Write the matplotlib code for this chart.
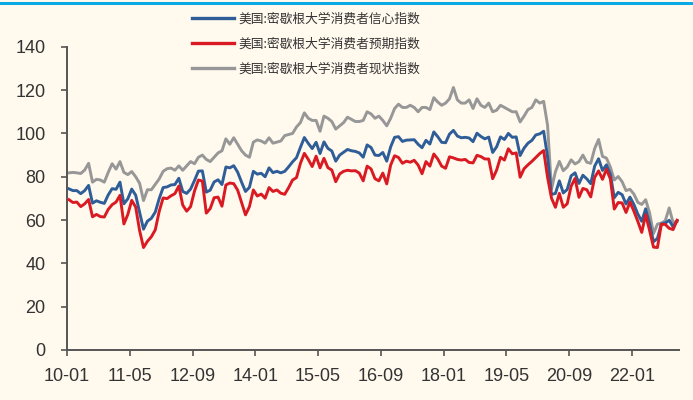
import matplotlib
matplotlib.use("Agg")
import matplotlib.pyplot as plt
import numpy as np
from matplotlib.patches import Rectangle

# Monthly observations, 2010-01 .. 2022-12
start_year = 2010
end_year = 2022

# 信心指数 (consumer sentiment)
sentiment = [
    74.4, 73.6, 73.6, 72.2, 73.6, 76.0, 67.8, 68.9, 68.2, 67.7, 71.6, 74.5,
    74.2, 77.5, 67.5, 69.8, 74.3, 71.5, 63.7, 55.8, 59.5, 60.8, 63.7, 69.9,
    75.0, 75.3, 76.2, 76.4, 79.3, 73.2, 72.3, 74.3, 78.3, 82.6, 82.7, 72.9,
    73.8, 77.6, 78.6, 76.4, 84.5, 84.1, 85.1, 82.1, 77.5, 73.2, 75.1, 82.5,
    81.2, 81.6, 80.0, 84.1, 81.9, 82.5, 81.8, 82.5, 84.6, 86.9, 88.8, 93.6,
    98.1, 95.4, 93.0, 95.9, 90.7, 96.1, 93.1, 91.9, 87.2, 90.0, 91.3, 92.6,
    92.0, 91.7, 91.0, 89.0, 94.7, 93.5, 90.0, 89.8, 91.2, 87.2, 93.8, 98.2,
    98.5, 96.3, 96.9, 97.0, 97.1, 95.0, 93.4, 96.8, 95.1, 100.7, 98.5, 95.9,
    95.7, 99.7, 101.4, 98.8, 98.0, 98.2, 97.9, 96.2, 100.1, 98.6, 97.5, 98.3,
    91.2, 93.8, 98.4, 97.2, 100.0, 98.2, 98.4, 89.8, 93.2, 95.5, 96.8, 99.3,
    99.8, 101.0, 89.1, 71.8, 72.3, 78.1, 72.5, 74.1, 80.4, 81.8, 76.9, 80.7,
    79.0, 76.8, 84.9, 88.3, 82.9, 85.5, 81.2, 70.3, 72.8, 71.7, 67.4, 70.6,
    67.2, 62.8, 59.4, 65.2, 58.4, 50.0, 51.5, 58.2, 58.6, 59.9, 56.8, 59.7,
]

# 预期指数 (expectations)
expectations = [
    69.4, 68.1, 68.3, 66.2, 67.5, 69.5, 61.5, 62.6, 61.6, 61.4, 64.9, 67.1,
    68.3, 71.4, 58.2, 62.6, 69.1, 66.0, 55.2, 47.3, 50.2, 52.3, 55.5, 64.0,
    70.2, 69.9, 71.2, 72.2, 75.7, 66.9, 64.1, 66.2, 73.4, 78.5, 78.0, 63.2,
    65.3, 70.3, 70.6, 66.4, 76.2, 77.1, 76.8, 73.8, 68.1, 62.4, 66.2, 73.9,
    71.1, 72.0, 70.1, 75.0, 73.2, 73.9, 72.4, 71.9, 75.0, 78.5, 79.6, 86.2,
    90.8, 88.0, 84.7, 89.5, 84.1, 88.5, 84.2, 83.1, 77.7, 81.3, 82.5, 83.0,
    82.7, 82.8, 81.7, 78.1, 84.9, 83.6, 79.1, 78.1, 81.7, 76.7, 85.4, 89.7,
    88.9, 86.2, 87.2, 86.7, 87.6, 85.4, 81.4, 87.0, 84.9, 90.5, 88.2, 84.9,
    83.9, 89.2, 88.7, 88.0, 87.7, 88.0, 86.6, 86.4, 89.9, 89.3, 88.2, 88.2,
    79.1, 83.0, 89.0, 87.7, 92.9, 90.6, 91.0, 79.8, 83.7, 85.5, 87.1, 88.9,
    90.7, 92.1, 79.7, 70.1, 65.9, 72.3, 65.9, 67.5, 75.6, 79.2, 70.5, 74.6,
    74.0, 70.7, 79.7, 82.7, 78.8, 83.5, 79.0, 65.1, 68.1, 67.9, 63.5, 68.3,
    64.1, 59.4, 54.3, 62.5, 55.2, 47.5, 47.3, 58.0, 58.0, 56.2, 55.6, 59.9,
]

# 现状指数 (current conditions)
current = [
    81.8, 82.0, 81.8, 81.5, 83.1, 86.2, 77.5, 78.8, 78.5, 77.5, 82.0, 86.0,
    83.5, 87.0, 82.0, 81.0, 82.4, 80.0, 77.0, 69.0, 74.0, 74.0, 76.5, 79.0,
    82.5, 83.7, 84.0, 83.0, 85.0, 83.0, 85.0, 87.0, 86.0, 89.0, 90.0, 88.0,
    87.0, 89.0, 91.0, 92.0, 97.5, 95.0, 98.0, 95.0, 92.0, 90.0, 89.0, 96.0,
    97.0, 96.5, 95.5, 98.0, 95.5, 96.0, 96.5, 99.0, 99.5, 100.0, 103.0, 105.0,
    109.5, 107.0, 106.0, 106.0, 101.0, 108.0, 107.0, 105.5, 102.0, 103.5, 105.0, 107.5,
    106.5, 105.5, 105.5, 106.0, 110.0, 109.0, 107.0, 108.0, 106.0, 103.5, 107.0, 111.5,
    113.5, 112.0, 112.0, 113.0, 112.0, 110.0, 112.0, 112.0, 111.0, 116.5, 114.5, 113.0,
    114.0, 116.0, 121.2, 115.5, 114.0, 114.0, 115.5, 111.5, 116.0, 113.0, 112.0, 114.0,
    110.0, 110.7, 113.0, 112.0, 111.0, 110.0, 110.0, 105.3, 108.0, 111.0, 112.0, 115.5,
    114.0, 114.8, 103.7, 74.3, 82.3, 87.1, 82.8, 84.5, 87.8, 85.9, 87.0, 90.0,
    86.7, 86.2, 93.0, 97.2, 89.4, 88.6, 84.5, 78.5, 80.1, 77.7, 73.6, 74.2,
    72.0, 68.2, 67.2, 69.4, 63.3, 53.8, 58.1, 58.6, 59.7, 65.6, 58.8, 59.4,
]

series_labels = [
    "美国:密歇根大学消费者信心指数",
    "美国:密歇根大学消费者预期指数",
    "美国:密歇根大学消费者现状指数",
]

tick_labels = ["10-01", "11-05", "12-09", "14-01", "15-05",
               "16-09", "18-01", "19-05", "20-09", "22-01"]
y_ticks = [0, 20, 40, 60, 80, 100, 120, 140]

# month labels for every observation ("YY-MM")
months = [f"{y % 100:02d}-{m:02d}"
          for y in range(start_year, end_year + 1) for m in range(1, 13)]

BG = "#FFF9EE"
AXIS = "#555555"
TEXT = "#333333"
C_BLUE = "#2E5D98"
C_RED = "#DA1A22"
C_GRAY = "#979797"

fig = plt.figure(figsize=(6.93, 4.00), dpi=100, facecolor=BG)
ax = fig.add_axes([0.0967, 0.125, 0.9831 - 0.0967 - 0.0033, 0.883 - 0.125])
ax.set_facecolor(BG)

n = len(months)
x = np.arange(n) + 0.5

l_gray, = ax.plot(x, current, color=C_GRAY, lw=2.1, solid_joinstyle="round",
                  label=series_labels[2], zorder=2)
l_blue, = ax.plot(x, sentiment, color=C_BLUE, lw=2.1, solid_joinstyle="round",
                  label=series_labels[0], zorder=3)
l_red, = ax.plot(x, expectations, color=C_RED, lw=2.1, solid_joinstyle="round",
                 label=series_labels[1], zorder=4)

ax.set_xlim(0, n)
ax.set_ylim(0, 140)

tick_pos = [months.index(t) for t in tick_labels]
ax.set_xticks(tick_pos)
ax.set_xticklabels(tick_labels)
ax.set_yticks(y_ticks)

for s in ("top", "right"):
    ax.spines[s].set_visible(False)
for s in ("left", "bottom"):
    ax.spines[s].set_color(AXIS)
    ax.spines[s].set_linewidth(1.4)

ax.tick_params(axis="both", direction="out", length=4, width=1.2,
               color=AXIS, labelcolor=TEXT, labelsize=13)
ax.tick_params(axis="y", pad=11.5)
ax.tick_params(axis="x", pad=9)
for lab in ax.get_xticklabels() + ax.get_yticklabels():
    lab.set_family(["Liberation Sans", "DejaVu Sans"])

leg = fig.legend(handles=[l_blue, l_red, l_gray],
                 labels=series_labels,
                 loc="upper left", bbox_to_anchor=(0.277, 0.968),
                 frameon=False, borderpad=0, borderaxespad=0,
                 handlelength=3.3, handletextpad=0.35, labelspacing=0.92,
                 prop={"family": ["Noto Sans CJK SC", "DejaVu Sans"], "size": 9.2})
for t in leg.get_texts():
    t.set_color(TEXT)
for h in leg.legend_handles:
    h.set_linewidth(2.4)

# thin accent rule along the top edge
fig.patches.append(Rectangle((0, 1 - 4.5 / 400), 1, 3 / 400,
                             transform=fig.transFigure, facecolor="#0BA8E6",
                             edgecolor="none", zorder=10))

fig.savefig("out.png", dpi=100, facecolor=BG)
